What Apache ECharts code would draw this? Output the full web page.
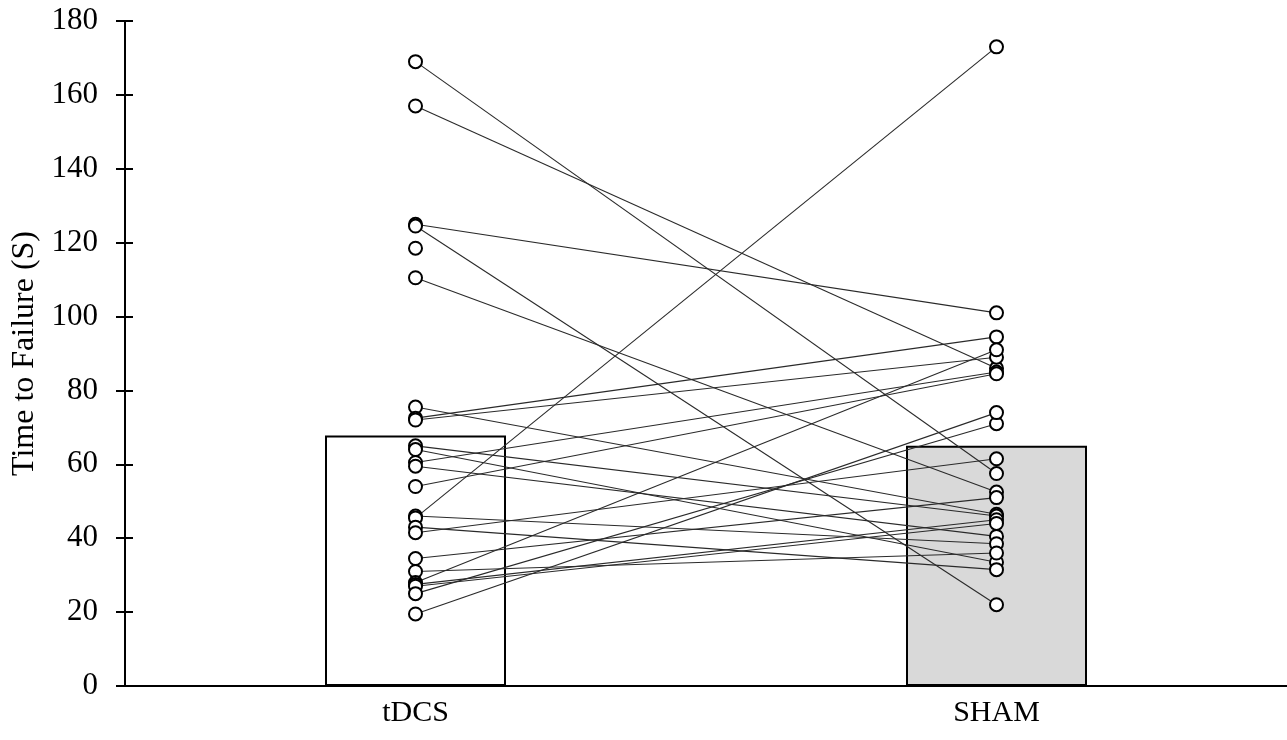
<!DOCTYPE html>
<html>
<head>
<meta charset="utf-8">
<script src="https://cdn.jsdelivr.net/npm/echarts@6/dist/echarts.min.js"></script>
<style>html,body{margin:0;padding:0;background:#fff}#c{width:1287px;height:740px}</style>
</head>
<body>
<div id="c"></div>
<script>
var categories = ['tDCS', 'SHAM'];
var yTicks = [0, 20, 40, 60, 80, 100, 120, 140, 160, 180];
var barMeans = [67.8, 65.0];
// paired subject values (tDCS, SHAM)
var tdcsValues = [169, 157, 125, 124.5, 110.5, 75.5, 72.5, 72, 65, 64, 60.5, 59.5, 54, 46, 45.5, 43, 41.5, 34.5, 31, 28, 27.5, 27, 25, 19.5];
var shamValues = [57.5, 86, 101, 22, 52.5, 46.5, 94.5, 89, 46, 33.5, 85, 40.5, 84.5, 38.5, 173, 31.5, 61.5, 51, 36, 91, 45, 44, 71, 74];
// unpaired observations
var tdcsUnpaired = [118.5];

var FONT = '"Liberation Serif", "Times New Roman", serif';
var series = [];
series.push({
  type: 'bar', data: [
    {value: barMeans[0], itemStyle: {color: '#ffffff'}},
    {value: barMeans[1], itemStyle: {color: '#d9d9d9'}}
  ],
  barWidth: 181,
  itemStyle: {borderColor: '#000', borderWidth: 2},
  silent: true, z: 1
});
for (var i = 0; i < tdcsValues.length; i++) {
  series.push({
    type: 'line', data: [tdcsValues[i], shamValues[i]],
    symbol: 'none', lineStyle: {color: '#2a2a2a', width: 1.1}, z: 3, silent: true
  });
}
var pts = [];
tdcsValues.forEach(function (v) { pts.push([0, v]); });
tdcsUnpaired.forEach(function (v) { pts.push([0, v]); });
shamValues.forEach(function (v) { pts.push([1, v]); });
series.push({
  type: 'scatter', data: pts, symbol: 'circle', symbolSize: 13,
  itemStyle: {color: '#fff', borderColor: '#000', borderWidth: 2, opacity: 1}, z: 5, silent: true
});

var chart = echarts.init(document.getElementById('c'), null, {renderer: 'canvas'});
chart.setOption({
  animation: false,
  backgroundColor: '#fff',
  grid: {left: 125, right: 0, top: 21, bottom: 54, containLabel: false},
  xAxis: {
    type: 'category', data: categories, boundaryGap: true,
    axisLine: {lineStyle: {color: '#000', width: 2}},
    axisTick: {show: false},
    axisLabel: {color: '#000', fontFamily: FONT, fontSize: 30, margin: 12},
    splitLine: {show: false}
  },
  yAxis: [{
    type: 'value', min: 0, max: 180, interval: 20,
    name: 'Time to Failure (S)', nameLocation: 'middle', nameGap: 77, nameRotate: 90,
    nameTextStyle: {color: '#000', fontFamily: FONT, fontSize: 32},
    axisLine: {show: true, lineStyle: {color: '#000', width: 2}},
    axisTick: {show: true, length: 9, lineStyle: {color: '#000', width: 2}},
    axisLabel: {color: '#000', fontFamily: FONT, fontSize: 31, margin: 27,
      formatter: function (v) { return yTicks.indexOf(v) >= 0 ? String(v) : ''; }},
    splitLine: {show: false}
  }, {
    type: 'value', min: 0, max: 180, interval: 20, position: 'left',
    axisLine: {show: false},
    axisTick: {show: true, inside: true, length: 8, lineStyle: {color: '#000', width: 2}},
    axisLabel: {show: false}, splitLine: {show: false}
  }],
  series: series
});
</script>
</body>
</html>
